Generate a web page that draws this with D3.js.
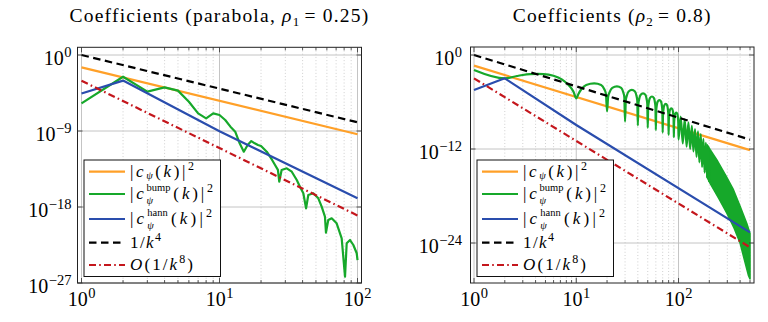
<!DOCTYPE html>
<html><head><meta charset="utf-8">
<script src="https://cdn.jsdelivr.net/npm/d3@7"></script>
<style>body{margin:0;background:#fff}svg{display:block}svg text{font-family:"Liberation Serif","DejaVu Serif",serif;white-space:pre}</style>
</head><body>
<svg id="chart" width="768" height="322"></svg>
<script>
// ---------------- DATA (y given as log10 of the value) ----------------
const titles = ["Coefficients (parabola,\u00a0", "Coefficients ("];

// Left panel (k = 1 .. 100)
const leftXTicks = [1, 10, 100];
const leftYTicks = [1e0, 1e-9, 1e-18, 1e-27];
const leftLineK = [1, 100];
const leftRef4Log = [0, -7.97];          // 1/k^4
const leftCpsiLog = [-1.47, -9.39];      // |c_psi(k)|^2
const leftOrder8Log = [-3.05, -19.0];    // O(1/k^8)
const leftHannK = [1, 2, 10, 100];
const leftHannLog = [-4.56, -3.03, -9.02, -16.96];
const leftBumpK = [1, 2, 3, 4, 5, 6, 7, 8, 9, 10, 11, 12, 13, 14, 15, 16, 17, 18, 19, 20, 22, 24, 25.2, 26.5, 27.1,
  28.2, 30.7, 33.4, 36.3, 38.3, 40.5, 42.4, 44, 47.8, 52, 55, 58.1, 59.1, 61.4, 65, 70.6, 76.8, 81.2, 83.5, 88.3, 93.3, 98.7, 100];
const leftBumpLog = [-5.72, -2.57, -4.34, -3.83, -4.22, -5.53, -6.91, -7.50, -6.91, -7.11, -7.70, -8.49, -9.08, -10.46, -11.45,
  -10.66, -10.19, -10.46, -10.66, -10.78, -11.45, -12.4, -13.0, -13.6, -15.0,
  -13.62, -13.42, -13.82, -14.8, -15.6, -16.38, -18.16, -16.58, -16.38, -16.97, -17.96, -19.15, -21.04, -19.54, -19.34,
  -19.93, -21.71, -26.25, -22.3, -21.91, -22.5, -23.48, -24.3];

// Right panel (k = 1 .. 500)
const rightXTicks = [1, 10, 100];
const rightYTicks = [1e0, 1e-12, 1e-24];
const rightLineK = [1, 500];
const rightRef4Log = [0, -10.8];
const rightCpsiLog = [-1.36, -12.15];
const rightOrder8Log = [-2.98, -24.55];
const rightHannK = [1, 2, 10, 500];
const rightHannLog = [-4.47, -2.98, -8.94, -22.64];
const rightBumpK = [1, 2, 2.63, 3.0, 3.54, 4.2, 4.78, 5.99, 7.22, 8.4, 9.4, 10,
  10.5, 11.2, 12.5, 15, 17.5, 18.8, 19.5, 20,
  20.5, 21.2, 22.5, 25, 27.5, 28.8, 29.5, 30,
  30.5, 31.2, 32.5, 35, 37.5, 38.8, 39.5, 40,
  40.5, 41.2, 42.5, 45, 47.5, 48.8, 49.5, 50,
  50.5, 51.2, 52.5, 55, 57.5, 58.8, 59.5, 60,
  60.5, 61.2, 62.5, 65, 67.5, 68.8, 69.5, 70,
  70.5, 71.2, 72.5, 75, 77.5, 78.8, 79.5, 80,
  80.5, 81.2, 82.5, 85, 87.5, 88.8, 89.5, 90,
  90.5, 91.2, 92.5, 95, 97.5, 98.8, 99.5, 100,
  105, 110, 115, 120, 125, 130, 135, 140, 145, 150, 155, 160, 165, 170, 175, 180, 185, 190, 195, 200];
const rightBumpLog = [-1.91, -2.98, -2.68, -2.55, -2.45, -2.42, -2.43, -2.64, -3.11, -3.83, -4.68, -5.53,
  -4.97, -4.37, -3.82, -3.62, -3.82, -4.37, -4.97, -7.2,
  -5.35, -4.75, -4.2, -4.0, -4.2, -4.75, -5.35, -8.5,
  -5.8, -5.2, -4.65, -4.45, -4.65, -5.2, -5.8, -9.0,
  -6.25, -5.65, -5.1, -4.9, -5.1, -5.65, -6.25, -9.3,
  -6.65, -6.05, -5.5, -5.3, -5.5, -6.05, -6.65, -9.6,
  -7.1, -6.5, -5.95, -5.75, -5.95, -6.5, -7.1, -9.9,
  -7.6, -7.0, -6.45, -6.25, -6.45, -7.0, -7.6, -10.2,
  -8.15, -7.55, -7.0, -6.8, -7.0, -7.55, -8.15, -10.5,
  -8.7, -8.1, -7.55, -7.35, -7.55, -8.1, -8.7, -10.8,
  -7.85, -11.3, -8.2, -11.7, -8.6, -12.0, -9.05, -12.3, -9.45, -13.0, -9.75, -13.7, -10.1, -14.3, -10.7, -15.0, -11.2, -15.6, -11.7, -16.2];
// dense oscillation band (upper envelope / lower edge)
const rightBandUpperK = [190, 204, 237, 290, 344, 400, 465, 500];
const rightBandUpperLog = [-11.45, -12.1, -13.4, -15.4, -17.2, -19.3, -21.5, -22.8];
const rightBandLowerK = [190, 204, 250, 297, 350, 400, 450, 482, 500];
const rightBandLowerLog = [-15.6, -16.4, -18.4, -20.2, -22.1, -24.0, -26.6, -28.1, -28.6];

// ---------------- STYLE ----------------
const C = {orange: "#FFA028", green: "#16A82A", blue: "#2A4DAD", black: "#000", red: "#C4161C"};
const svg = d3.select("#chart");
const P = v => Math.pow(10, v);

// rich text helper: pieces laid out left to right; optional target width (spread by extra gaps / letter-spacing)
function rich(parent, x, y, pieces, anchor, base, target, mode) {
  const build = (gap, ls) => {
    const g = parent.append("g");
    let cx = 0;
    const mk = (p, xx) => {
      const t = g.append("text").attr("x", xx).attr("y", p.dy || 0)
        .style("font-size", (p.size || base) + "px")
        .style("letter-spacing", ls + "px")
        .style("font-style", p.it ? "italic" : "normal").attr("fill", "#000").text(p.t);
      return t.node().getComputedTextLength();
    };
    pieces.forEach((p, i) => {
      if (i > 0) cx += gap;
      cx += p.dx || 0;
      if (p.stack) {
        let w = 0;
        p.stack.forEach(s => { w = Math.max(w, mk(s, cx)); });
        cx += w;
      } else cx += mk(p, cx);
      cx += p.dxa || 0;
    });
    return {g, w: cx};
  };
  let r = build(0, 0);
  if (target) {
    r.g.remove();
    if (mode === "letter") {
      const n = pieces.reduce((a, p) => a + (p.stack ? 0 : p.t.length), 0);
      r = build(0, Math.max(0, (target - r.w) / n));
    } else {
      r = build(Math.max(0, (target - r.w) / (pieces.length - 1)), 0);
    }
  }
  const sh = anchor === "end" ? -r.w : anchor === "middle" ? -r.w / 2 : 0;
  r.g.attr("transform", `translate(${x + sh},${y})`);
  return r.g;
}

function panel(cfg) {
  const {box, x, y, xTicks, yTicks, xMinor, title, id} = cfg;
  const g = svg.append("g");
  const grid = g.append("g");
  grid.selectAll(".gxm").data(xMinor).join("line")
    .attr("x1", d => x(d)).attr("x2", d => x(d)).attr("y1", box.y0).attr("y2", box.y1)
    .attr("stroke", "#c4c4c4").attr("stroke-width", 0.8).attr("stroke-dasharray", "1,2.2");
  grid.selectAll(".gx").data(xTicks).join("line")
    .attr("x1", d => x(d)).attr("x2", d => x(d)).attr("y1", box.y0).attr("y2", box.y1)
    .attr("stroke", "#bdbdbd").attr("stroke-width", 0.9);
  grid.selectAll(".gy").data(yTicks).join("line")
    .attr("y1", d => y(d)).attr("y2", d => y(d)).attr("x1", box.x0).attr("x2", box.x1)
    .attr("stroke", "#bdbdbd").attr("stroke-width", 0.9);

  svg.append("clipPath").attr("id", id).append("rect")
    .attr("x", box.x0).attr("y", box.y0).attr("width", box.x1 - box.x0).attr("height", box.y1 - box.y0);
  const plot = g.append("g").attr("clip-path", `url(#${id})`);
  const line = (curve) => d3.line().x(d => x(d[0])).y(d => y(d[1])).curve(curve || d3.curveLinear);
  const zipP = (ks, ls) => ks.map((k, i) => [k, P(ls[i])]);

  cfg.series.forEach(s => {
    if (s.area) {
      const up = zipP(s.area.uk, s.area.ul), lo = zipP(s.area.lk, s.area.ll);
      const pts = up.concat(lo.slice().reverse());
      plot.append("path").attr("d", d3.line().x(d => x(d[0])).y(d => y(d[1]))(pts) + "Z")
        .attr("fill", s.color).attr("stroke", s.color).attr("stroke-width", 1.6).attr("stroke-linejoin", "round");
    }
    if (s.k) {
      plot.append("path").datum(zipP(s.k, s.log)).attr("d", line(s.curve))
        .attr("fill", "none").attr("stroke", s.color).attr("stroke-width", s.w || 2.2)
        .attr("stroke-dasharray", s.dash || null).attr("stroke-linejoin", "round");
    }
  });

  g.append("rect").attr("x", box.x0).attr("y", box.y0).attr("width", box.x1 - box.x0).attr("height", box.y1 - box.y0)
    .attr("fill", "none").attr("stroke", "#222").attr("stroke-width", 1);
  const tk = g.append("g").attr("stroke", "#333").attr("stroke-width", 0.8);
  xTicks.forEach(d => { tk.append("line").attr("x1", x(d)).attr("x2", x(d)).attr("y1", box.y1).attr("y2", box.y1 - 5);
    tk.append("line").attr("x1", x(d)).attr("x2", x(d)).attr("y1", box.y0).attr("y2", box.y0 + 5); });
  xMinor.forEach(d => { tk.append("line").attr("x1", x(d)).attr("x2", x(d)).attr("y1", box.y1).attr("y2", box.y1 - 3);
    tk.append("line").attr("x1", x(d)).attr("x2", x(d)).attr("y1", box.y0).attr("y2", box.y0 + 3); });
  yTicks.forEach(d => { tk.append("line").attr("y1", y(d)).attr("y2", y(d)).attr("x1", box.x0).attr("x2", box.x0 + 5);
    tk.append("line").attr("y1", y(d)).attr("y2", y(d)).attr("x1", box.x1).attr("x2", box.x1 - 5); });

  const expo = d => String(Math.round(Math.log10(d))).replace("-", "\u2212");
  xTicks.forEach(d => {
    rich(g, x(d), 306, [{t: "10"}, {t: expo(d), size: 14.5, dy: -8, dx: 0.5}], "middle", 20);
  });
  yTicks.forEach(d => {
    rich(g, cfg.yLabelX, y(d) + 10, [{t: "10"}, {t: expo(d), size: 14.5, dy: -8, dx: 0.5}], "end", 20);
  });
  rich(g, (box.x0 + box.x1) / 2, 22, title, "middle", 19.5, cfg.titleW, "letter");

  const L = {x: box.x0 + 6.5, y: box.y1 - 123, w: 136.5, h: 116.5};
  const lg = g.append("g");
  lg.append("rect").attr("x", L.x).attr("y", L.y).attr("width", L.w).attr("height", L.h)
    .attr("fill", "#fff").attr("stroke", "#111").attr("stroke-width", 1);
  const rows = [11.7, 34, 59, 82.7, 105];
  const rowW = [64, 83, 82, 31, 63];
  const texts = [
    [{t: "|"}, {t: "c", it: 1}, {t: "ψ", it: 1, size: 10.5, dy: 2.5}, {t: "("}, {t: "k", it: 1}, {t: ")"}, {t: "|"}, {t: "2", size: 12, dy: -7}],
    [{t: "|"}, {t: "c", it: 1}, {stack: [{t: "bump", size: 10.5, dy: -8}, {t: "ψ", it: 1, size: 10.5, dy: 5}]}, {t: "("}, {t: "k", it: 1}, {t: ")"}, {t: "|"}, {t: "2", size: 12, dy: -7}],
    [{t: "|"}, {t: "c", it: 1}, {stack: [{t: "hann", size: 10.5, dy: -8}, {t: "ψ", it: 1, size: 10.5, dy: 5}]}, {t: "("}, {t: "k", it: 1}, {t: ")"}, {t: "|"}, {t: "2", size: 12, dy: -7}],
    [{t: "1"}, {t: "/"}, {t: "k", it: 1}, {t: "4", size: 12, dy: -7}],
    [{t: "O", it: 1}, {t: "("}, {t: "1"}, {t: "/"}, {t: "k", it: 1}, {t: "8", size: 12, dy: -7}, {t: ")"}]
  ];
  cfg.series.forEach((s, i) => {
    const yy = L.y + rows[i];
    lg.append("line").attr("x1", L.x + 5).attr("x2", L.x + 41).attr("y1", yy).attr("y2", yy)
      .attr("stroke", s.color).attr("stroke-width", s.w || 2.2).attr("stroke-dasharray", s.dash || null);
    rich(lg, L.x + 46, yy + 5, texts[i], "start", 17, rowW[i], "gap");
  });
}

const minorTicks = (decades, maxV) => {
  const out = [];
  decades.forEach(d => { for (let m = 2; m <= 9; m++) { const v = m * Math.pow(10, d); if (v <= maxV) out.push(v); } });
  return out;
};

const xL = d3.scaleLog().domain([1, 100]).range([81.5, 357.5]);
const yL = d3.scaleLog().domain([1e-27, 1]).range([283, 55]);
panel({
  id: "clipL", box: {x0: 77.5, x1: 361.5, y0: 47.3, y1: 283}, x: xL, y: yL, titleW: 300,
  xTicks: leftXTicks, yTicks: leftYTicks, xMinor: minorTicks([0, 1], 100), yLabelX: 71.5,
  title: [{t: titles[0]}, {t: "ρ", it: 1}, {t: "1", size: 13, dy: 4, dxa: 4}, {t: "=\u00a00.25)"}],
  series: [
    {k: leftLineK, log: leftCpsiLog, color: C.orange},
    {k: leftBumpK, log: leftBumpLog, color: C.green},
    {k: leftHannK, log: leftHannLog, color: C.blue},
    {k: leftLineK, log: leftRef4Log, color: C.black, dash: "7.5,4.5"},
    {k: leftLineK, log: leftOrder8Log, color: C.red, dash: "7,3.2,1.6,3.2"}
  ]
});

const xR = d3.scaleLog().domain([1, 500]).range([474, 750]);
const yR = d3.scaleLog().domain([1e-24, 1]).range([243, 55]);
panel({
  id: "clipR", box: {x0: 470.5, x1: 754, y0: 47, y1: 283}, x: xR, y: yR, titleW: 199,
  xTicks: rightXTicks, yTicks: rightYTicks, xMinor: minorTicks([0, 1, 2], 560), yLabelX: 462,
  title: [{t: titles[1]}, {t: "ρ", it: 1}, {t: "2", size: 13, dy: 4, dxa: 4}, {t: "=\u00a00.8)"}],
  series: [
    {k: rightLineK, log: rightCpsiLog, color: C.orange},
    {k: rightBumpK, log: rightBumpLog, color: C.green, curve: d3.curveMonotoneX,
     area: {uk: rightBandUpperK, ul: rightBandUpperLog, lk: rightBandLowerK, ll: rightBandLowerLog}},
    {k: rightHannK, log: rightHannLog, color: C.blue},
    {k: rightLineK, log: rightRef4Log, color: C.black, dash: "7.5,4.5"},
    {k: rightLineK, log: rightOrder8Log, color: C.red, dash: "7,3.2,1.6,3.2"}
  ]
});
</script>
</body></html>
